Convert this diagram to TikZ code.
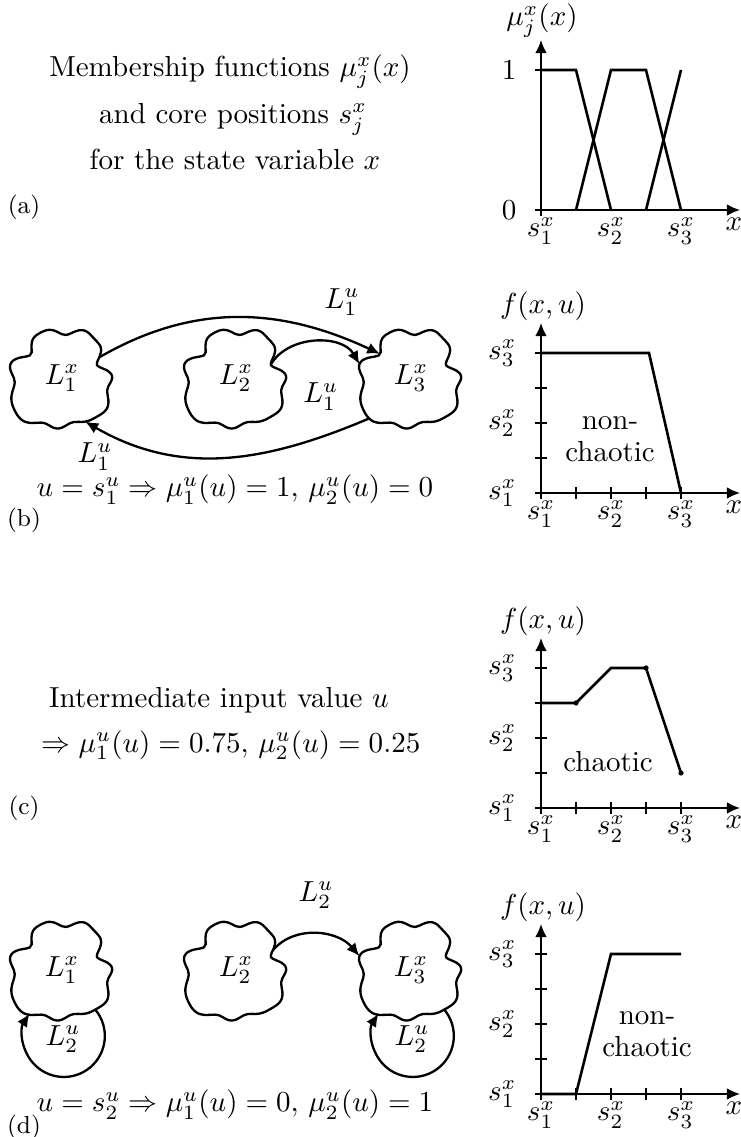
\documentclass[tikz,border=0pt]{standalone}
\usepackage{fontspec}
\usetikzlibrary{arrows.meta,calc}
\begin{document}
\begin{tikzpicture}[x=0.345pt,y=0.345pt,
  declare function={cr(\t)=50-2*cos(4*\t)+1.5*cos(2*\t)+2.2*sin(7*\t+20)+1.3*sin(11*\t+60)-13*exp(-40*(1-cos(\t-20)))-11*exp(-40*(1-cos(\t-142)))+5*exp(-8*(1-cos(\t-224)));},
  plotaxis/.style={line width=0.55pt,-{Latex[length=4.5pt,width=4pt]}},
  curve/.style={line width=0.9pt,line join=miter},
  axtick/.style={line width=0.55pt},
  ylab/.style={anchor=east,inner sep=0pt},
  xlab/.style={anchor=north,inner sep=0pt},
  toplab/.style={anchor=south,inner sep=0pt},
  cloudnode/.style={circle,draw=none,inner sep=0pt,minimum size=20pt},
  cloudline/.style={line width=0.8pt},
  conn/.style={line width=0.8pt,-{Latex[length=4.5pt,width=4pt]}},
  panel/.style={font=\rmfamily\fontsize{8.5}{10}\selectfont,inner sep=0pt},
  txt/.style={anchor=base,inner sep=0pt},
  twoline/.style={align=center,inner sep=0pt,font=\fontsize{10}{11}\selectfont},
  dot/.style={circle,fill=black,inner sep=0pt,minimum size=1.8pt}]
\useasboundingbox (0,0) rectangle (741,1137);

% ---------------- (a) ----------------
\node[txt] (ta1) at (230,1060) {Membership functions $\mu_j^x(x)$};
\node[txt] (ta2) at (233,1013.5) {and core positions $s_j^x$};
\node[txt] (ta3) at (235,967) {for the state variable $x$};
\node[panel] (pa) at (24,930) {(a)};
\begin{scope}[shift={(541,927)}]
  \draw[plotaxis] (-6,0) -- (199,0);
  \draw[plotaxis] (0,-6) -- (0,170);
  \draw[axtick] (-6,140) -- (0,140);
  \draw[curve] (0,140) -- (35,140) -- (70,0);
  \draw[curve] (35,0) -- (70,140) -- (105,140) -- (140,0);
  \draw[curve] (105,0) -- (140,140);
  \node[ylab] (a1) at (-24,140) {$1$};
  \node[ylab] (a0) at (-24,0) {$0$};
  \node[xlab] (ax1) at (0,-7) {$s_1^x$};
  \node[xlab] (ax2) at (70,-7) {$s_2^x$};
  \node[xlab] (ax3) at (140,-7) {$s_3^x$};
  \node[xlab] (axx) at (193,-7) {$x$};
  \node[toplab] (ay) at (1,172) {$\mu_j^x(x)$};
\end{scope}

% ---------------- (b) ----------------
\node[cloudnode] (L1b) at (62,759) {$L_1^x$};
\node[cloudnode] (L2b) at (236,759) {$L_2^x$};
\node[cloudnode] (L3b) at (411,759) {$L_3^x$};
\foreach \n in {L1b,L2b,L3b}{
  \draw[cloudline,shift={(\n.center)}] plot[smooth cycle,samples=72,domain=0:355,variable=\t] (\t:{cr(\t)});
}
\draw[conn] ($(L1b.center)+(29:{cr(29)})$) to[out=30,in=155]
  node[pos=0.87,above=4pt] {$L_1^u$} ($(L3b.center)+(142:{cr(142)})$);
\draw[conn] ($(L2b.center)+(21:{cr(21)})$) to[out=60,in=120]
  node[midway,below=10.5pt,xshift=2pt] {$L_1^u$} ($(L3b.center)+(165:{cr(165)})$);
\draw[conn] ($(L3b.center)+(224:{cr(224)})$) to[out=203,in=-30]
  node[pos=0.9,below left,inner sep=0pt,yshift=-2pt] {$L_1^u$} ($(L1b.center)+(298:{cr(298)})$);
\node[txt] (tb) at (235,640) {$u=s_1^u\Rightarrow\mu_1^u(u)=1,\,\mu_2^u(u)=0$};
\node[panel] (pb) at (24,617) {(b)};
\begin{scope}[shift={(541,644)}]
  \draw[plotaxis] (-6,0) -- (199,0);
  \draw[plotaxis] (0,-6) -- (0,170);
  \foreach \i in {35,70,105,140}{\draw[axtick] (\i,-6) -- (\i,6); \draw[axtick] (-6,\i) -- (6,\i);}
  \draw[curve] (0,140) -- (108,140) -- (140,0);
  \node[ylab] (b1) at (-24,0) {$s_1^x$};
  \node[ylab] (b2) at (-24,70) {$s_2^x$};
  \node[ylab] (b3) at (-24,140) {$s_3^x$};
  \node[xlab] (bx1) at (0,-7) {$s_1^x$};
  \node[xlab] (bx2) at (70,-7) {$s_2^x$};
  \node[xlab] (bx3) at (140,-7) {$s_3^x$};
  \node[xlab] (bxx) at (193,-7) {$x$};
  \node[toplab] (by) at (2,172) {$f(x,u)$};
  \node[twoline] (bt) at (69,54) {non-\\chaotic};
\end{scope}

% ---------------- (c) ----------------
\node[txt] (tc1) at (219,429) {Intermediate input value $u$};
\node[txt] (tc2) at (231,384.5) {$\Rightarrow\mu_1^u(u)=0.75,\,\mu_2^u(u)=0.25$};
\node[panel] (pc) at (24,329) {(c)};
\begin{scope}[shift={(541,329)}]
  \draw[plotaxis] (-6,0) -- (199,0);
  \draw[plotaxis] (0,-6) -- (0,170);
  \foreach \i in {35,70,105,140}{\draw[axtick] (\i,-6) -- (\i,6); \draw[axtick] (-6,\i) -- (6,\i);}
  \draw[curve] (0,105) -- (35,105) -- (70,140) -- (105,140) -- (140,35);
  \node[dot] at (35,105) {};
  \node[dot] at (105,140) {};
  \node[dot] at (140,35) {};
  \node[ylab] (c1) at (-24,0) {$s_1^x$};
  \node[ylab] (c2) at (-24,70) {$s_2^x$};
  \node[ylab] (c3) at (-24,140) {$s_3^x$};
  \node[xlab] (cx1) at (0,-7) {$s_1^x$};
  \node[xlab] (cx2) at (70,-7) {$s_2^x$};
  \node[xlab] (cx3) at (140,-7) {$s_3^x$};
  \node[xlab] (cxx) at (193,-7) {$x$};
  \node[toplab] (cy) at (2,172) {$f(x,u)$};
  \node[inner sep=0pt] (ct) at (67,46) {chaotic};
\end{scope}

% ---------------- (d) ----------------
\node[cloudnode] (L1d) at (62,167) {$L_1^x$};
\node[cloudnode] (L2d) at (236,167) {$L_2^x$};
\node[cloudnode] (L3d) at (411,167) {$L_3^x$};
\foreach \n in {L1d,L2d,L3d}{
  \draw[cloudline,shift={(\n.center)}] plot[smooth cycle,samples=72,domain=0:355,variable=\t] (\t:{cr(\t)});
}
\draw[conn] ($(L2d.center)+(28:{cr(28)})$) to[out=50,in=130]
  node[midway,above=5pt] {$L_2^u$} ($(L3d.center)+(165:{cr(165)})$);
\draw[conn] ($(L1d.center)+(-50:{cr(-50)})$) arc[start angle=40,end angle=-213,radius=41];
\node (l1d) at ($(L1d.center)+(1,-69)$) {$L_2^u$};
\draw[conn] ($(L3d.center)+(-50:{cr(-50)})$) arc[start angle=40,end angle=-213,radius=41];
\node (l3d) at ($(L3d.center)+(1,-69)$) {$L_2^u$};
\node[txt] (td) at (235,25) {$u=s_2^u\Rightarrow\mu_1^u(u)=0,\,\mu_2^u(u)=1$};
\node[panel] (pd) at (24,10) {(d)};
\begin{scope}[shift={(541,43)}]
  \draw[plotaxis] (-6,0) -- (199,0);
  \draw[plotaxis] (0,-6) -- (0,170);
  \foreach \i in {35,70,105,140}{\draw[axtick] (\i,-6) -- (\i,6); \draw[axtick] (-6,\i) -- (6,\i);}
  \draw[curve] (0,0) -- (35,0) -- (70,140) -- (140,140);
  \node[ylab] (d1) at (-24,0) {$s_1^x$};
  \node[ylab] (d2) at (-24,70) {$s_2^x$};
  \node[ylab] (d3) at (-24,140) {$s_3^x$};
  \node[xlab] (dx1) at (0,-7) {$s_1^x$};
  \node[xlab] (dx2) at (70,-7) {$s_2^x$};
  \node[xlab] (dx3) at (140,-7) {$s_3^x$};
  \node[xlab] (dxx) at (193,-7) {$x$};
  \node[toplab] (dy) at (2,172) {$f(x,u)$};
  \node[twoline] (dt) at (106,60) {non-\\chaotic};
\end{scope}
\end{tikzpicture}
\end{document}
